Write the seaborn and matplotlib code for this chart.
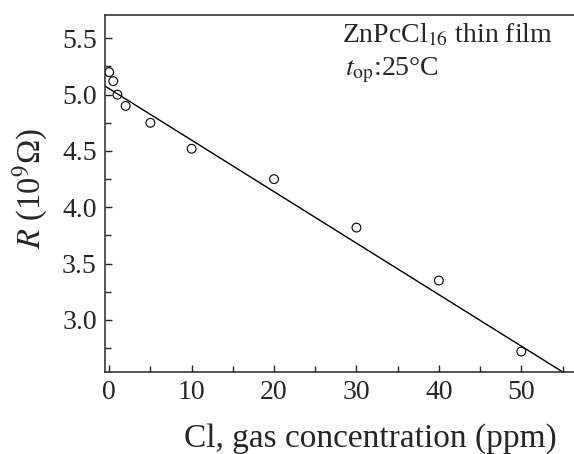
import numpy as np
import pandas as pd
import seaborn as sns
import matplotlib.pyplot as plt
from matplotlib.ticker import MultipleLocator

# Data
conc_ppm = [0, 0.5, 1, 2, 5, 10, 20, 30, 40, 50]
resistance = [5.20, 5.12, 5.00, 4.90, 4.75, 4.52, 4.25, 3.82, 3.35, 2.72]

# linear fit line as drawn in the figure
fit_intercept = 5.053
fit_slope = -0.0457

df = pd.DataFrame({"conc": conc_ppm, "R": resistance})

sns.set_style("ticks")
plt.rcParams['font.family'] = ['Liberation Serif', 'DejaVu Serif']
plt.rcParams['mathtext.fontset'] = 'stix'

fig = plt.figure(figsize=(5.74, 4.54), dpi=100)
ax = fig.add_axes([0.183, 0.181, 0.82, 0.786])

sns.scatterplot(data=df, x="conc", y="R", ax=ax, marker="o", s=40,
                facecolor="none", edgecolor="black", linewidth=0.8, zorder=3)
ax.axline((0, fit_intercept), slope=fit_slope, color="black", lw=1.0)

ax.set_xlim(-0.5, 56.6)
ax.set_ylim(2.54, 5.707)
ax.xaxis.set_major_locator(MultipleLocator(10))
ax.xaxis.set_minor_locator(MultipleLocator(5))
ax.yaxis.set_major_locator(MultipleLocator(0.5))
ax.yaxis.set_minor_locator(MultipleLocator(0.25))
ax.tick_params(which="both", direction="in", labelsize=20, width=1)
ax.tick_params(which="major", length=5, pad=6)
ax.tick_params(which="minor", length=4)

for s in ax.spines.values():
    s.set_linewidth(1.1)
ax.spines['right'].set_visible(False)

ax.set_xlabel("Cl, gas concentration (ppm)", fontsize=24)
ax.set_ylabel("$R$ (10$^9$Ω)", fontsize=23.5)
ax.xaxis.set_label_coords(0.563, -0.145)
ax.yaxis.set_label_coords(-0.117, 0.515)

ax.text(0.503, 0.924, "ZnPcCl$_{16}$ thin film", transform=ax.transAxes,
        fontsize=20, va="baseline", ha="left")
ax.text(0.51, 0.832, "$t_{\\rm op}$:25°C", transform=ax.transAxes,
        fontsize=20, va="baseline", ha="left")

fig.savefig("out.png", dpi=100)
